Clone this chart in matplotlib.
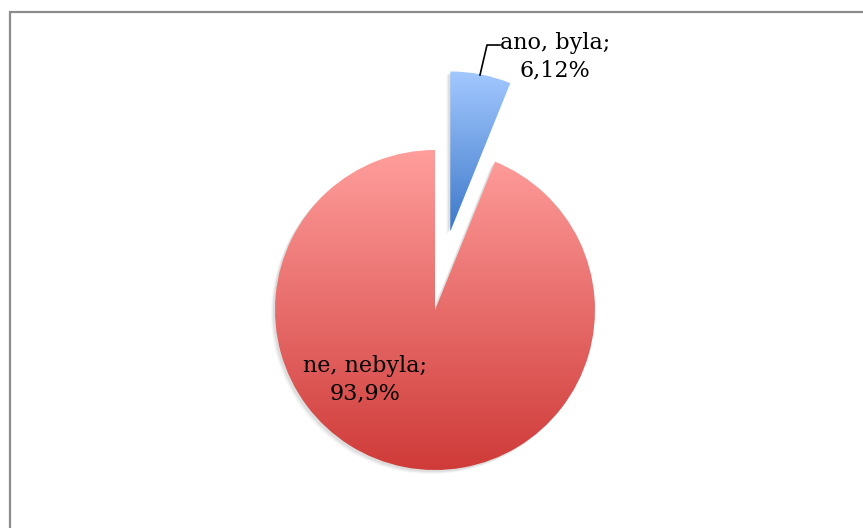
"""Pie chart: ano, byla / ne, nebyla, with vertical colour gradients."""

import matplotlib.pyplot as plt
import numpy as np
from matplotlib.colors import LinearSegmentedColormap
from matplotlib.patches import Rectangle, Wedge

labels = ["ano, byla;", "ne, nebyla;"]
values = [6.12, 93.88]
value_texts = ["6,12%", "93,9%"]
explode = [0.5, 0.0]  # fraction of radius

GRADIENTS = [
    ("#3D79C9", "#A3C8FF"),  # blue: bottom, top
    ("#CF3B39", "#FF9E9C"),  # red: bottom, top
]

W, H = 863, 528
RADIUS = 160
plt.rcParams["font.family"] = ["DejaVu Serif"]

fig = plt.figure(figsize=(W / 100, H / 100), dpi=100)
ax = fig.add_axes([0, 0, 1, 1])

# pie() offsets exploded wedges in data units, so scale by the radius
wedges, _ = ax.pie(values, explode=[e * RADIUS for e in explode], startangle=90,
                   counterclock=False, center=(435, 218), radius=RADIUS, frame=True,
                   wedgeprops=dict(linewidth=0, facecolor="none"))
ax.set_aspect("equal")
ax.axis("off")

# outer frame, cut by the image edge on the right and bottom
ax.add_patch(Rectangle((9.5, -10), W + 10, H - 11.5 + 10, fill=False,
                       edgecolor="#8c8c8c", linewidth=1.6))

grad = np.linspace(0, 1, 256).reshape(-1, 1)
for wedge, (c0, c1) in zip(wedges, GRADIENTS):
    # soft drop shadow, slightly down and left
    for k, a in [(4, 0.05), (3, 0.07), (2, 0.09)]:
        ax.add_patch(Wedge((wedge.center[0] - k, wedge.center[1] - k), wedge.r,
                           wedge.theta1, wedge.theta2, facecolor="#5a5a5a",
                           alpha=a, linewidth=0, zorder=1))
    cmap = LinearSegmentedColormap.from_list("g", [c0, c1])
    x0, y0, x1, y1 = wedge.get_path().get_extents(wedge.get_patch_transform()).extents
    im = ax.imshow(grad, cmap=cmap, origin="lower", aspect="auto",
                   extent=(x0, x1, y0, y1), zorder=2)
    im.set_clip_path(wedge)

ax.set_xlim(0, W)
ax.set_ylim(0, H)

# leader line for the small slice
ax.plot([480, 487, 500], [453, 483, 483], color="black", linewidth=1.2, zorder=3)

ax.text(555, 471, f"{labels[0]}\n{value_texts[0]}", ha="center", va="center",
        fontsize=16, linespacing=1.3, zorder=4)
ax.text(365, 148, f"{labels[1]}\n{value_texts[1]}", ha="center", va="center",
        fontsize=16, linespacing=1.3, zorder=4)

fig.savefig("out.png", dpi=100)
